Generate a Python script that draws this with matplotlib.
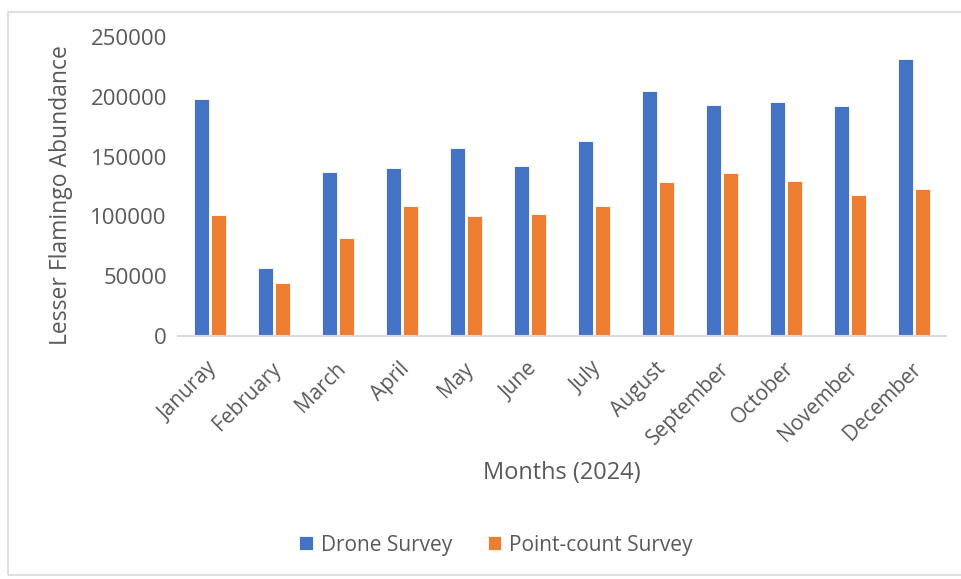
import matplotlib.pyplot as plt
import numpy as np
from matplotlib.patches import Rectangle
from matplotlib.transforms import ScaledTranslation

months = ["Januray", "February", "March", "April", "May", "June", "July",
          "August", "September", "October", "November", "December"]
drone = [198000, 57000, 137000, 140500, 157500, 142500, 163000,
         204500, 193000, 196000, 192000, 231500]
point_count = [101500, 44500, 82000, 108500, 100000, 102000, 108500,
               129000, 136500, 130000, 118000, 122500]
yticks = [0, 50000, 100000, 150000, 200000, 250000]

blue = "#4472C4"
orange = "#ED7D31"
grey = "#595959"

plt.rcParams['font.family'] = ['Open Sans', 'DejaVu Sans']

fig = plt.figure(figsize=(9.62, 5.79), dpi=100)
ax = fig.add_axes([178/962, 1 - 336/579, 768/962, 299/579])

# outer chart frame
fig.patches.append(Rectangle((8/962, 4/579), 960/962, 563/579, transform=fig.transFigure,
                             fill=False, edgecolor="#d9d9d9", linewidth=1.2))

x = np.arange(len(months))
w = 0.225
ax.bar(x - 0.13, drone, w, color=blue, edgecolor="white", linewidth=0.6, label="Drone Survey")
ax.bar(x + 0.13, point_count, w, color=orange, edgecolor="white", linewidth=0.6, label="Point-count Survey")

ax.set_xlim(-0.5, len(months) - 0.5)
ax.set_ylim(0, 250000)
ax.set_yticks(yticks)
ax.set_yticklabels([str(v) for v in yticks])
ax.set_xticks(x)
ax.set_xticklabels(months, rotation=45, ha="right", rotation_mode="anchor")

for s in ["top", "right", "left"]:
    ax.spines[s].set_visible(False)
ax.spines["bottom"].set_color("#d9d9d9")
ax.spines["bottom"].set_linewidth(1.5)
ax.tick_params(axis="x", length=0, labelsize=15, colors=grey, pad=16)
ax.tick_params(axis="y", length=0, labelsize=16, colors=grey, pad=8)

# nudge rotated month labels a little to the left
shift = ScaledTranslation(-3/100, 0, fig.dpi_scale_trans)
for lbl in ax.get_xticklabels():
    lbl.set_transform(lbl.get_transform() + shift)

ax.set_ylabel("Lesser Flamingo Abundance", fontsize=16.5, color=grey)
ax.yaxis.set_label_coords(-0.137, 0.47)
ax.set_xlabel("Months (2024)", fontsize=17, color=grey, labelpad=9)

fig.legend(loc="center", bbox_to_anchor=(496/962, 1 - 545/579), ncol=2, frameon=False,
           fontsize=15, labelcolor=grey, handlelength=0.65, handleheight=0.65,
           handletextpad=0.4, columnspacing=1.7)

fig.savefig("out.png", dpi=100)
